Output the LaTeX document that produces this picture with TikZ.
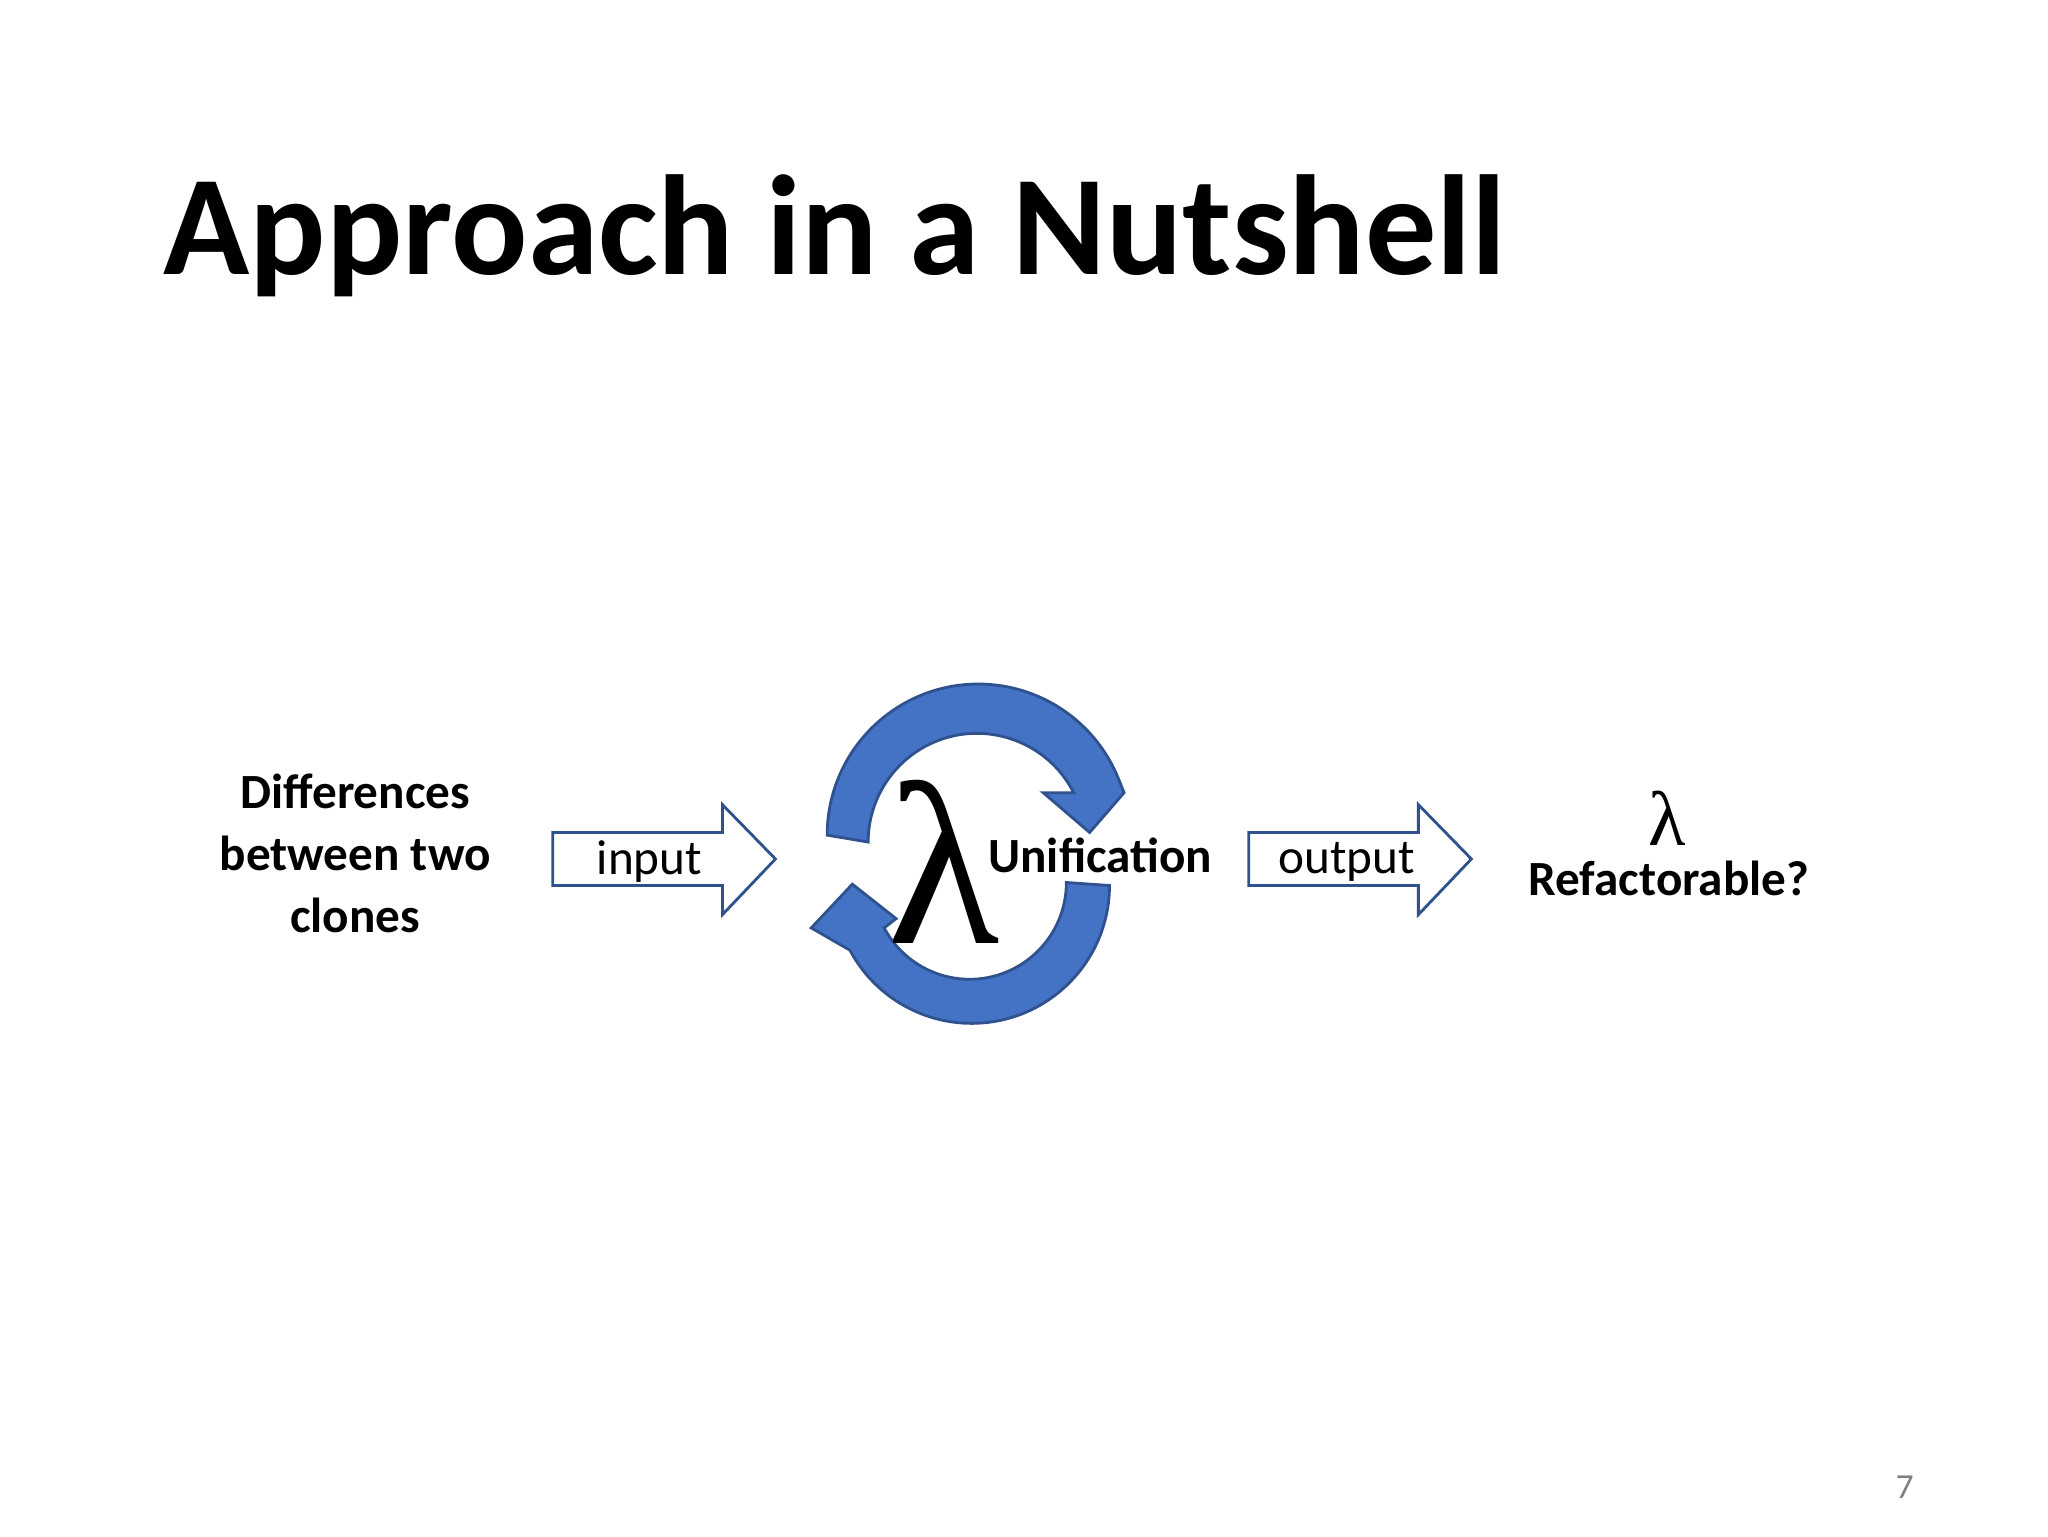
\documentclass[tikz,border=0pt]{standalone}
\usepackage{fontspec}
\setmainfont{Carlito}
\newfontfamily\lamfont{Liberation Serif}
\begin{document}
\begin{tikzpicture}[x=0.013256cm,y=-0.013256cm,
  cyc/.style={draw=cycb, fill=cycf, line width=0.8pt},
  lbl/.style={font=\fontsize{14}{17.7}\selectfont\bfseries, align=center}]
\definecolor{cycf}{HTML}{4472C4}
\definecolor{cycb}{HTML}{2F528F}
\useasboundingbox (0,0) rectangle (1545,1159);
\node[anchor=base west, font=\fontsize{40.5}{46}\selectfont\bfseries, inner sep=0] (title) at (123,207) {Approach in a Nutshell};
\node[lbl] (diff) at (268,644) {Differences\\between two\\clones};
% input arrow
\draw[draw=cycb, fill=white, line width=0.8pt] (417,628) -- (545,628) -- (545,607) -- (585,648) -- (545,690) -- (545,668) -- (417,668) -- cycle;
\node[font=\fontsize{14}{17}\selectfont] (in) at (490,650) {input};
% output arrow
\draw[draw=cycb, fill=white, line width=0.8pt] (942,628) -- (1070,628) -- (1070,607) -- (1110,648) -- (1070,690) -- (1070,668) -- (942,668) -- cycle;
\node[font=\fontsize{14}{17}\selectfont] (out) at (1016,650) {output};
% cycle icon
\filldraw[cyc] (738,630) ++(180:114) arc[start angle=180,end angle=338,radius=114] -- (848,598) -- (822,628) -- (787,598) -- (810,598) arc[start angle=333,end angle=180,radius=82] -- cycle;
\filldraw[cyc] (733,668) ++(0:104) arc[start angle=0,end angle=152,radius=104] -- (612,700) -- (643,667) -- (676,693) -- (667,700) arc[start angle=152,end angle=0,radius=73] -- cycle;
\node[font=\fontsize{66}{66}\selectfont\lamfont] (lam) at (712,650) {λ};
\node[font=\fontsize{14}{17}\selectfont\bfseries] (uni) at (830,645) {Unification};
\node[font=\fontsize{22}{22}\selectfont\lamfont] (lam2) at (1258,617) {λ};
\node[font=\fontsize{14}{17}\selectfont\bfseries] (ref) at (1259,663) {Refactorable?};
\node[font=\fontsize{10}{12}\selectfont, text=gray] (pg) at (1437,1122) {7};
\end{tikzpicture}
\end{document}
